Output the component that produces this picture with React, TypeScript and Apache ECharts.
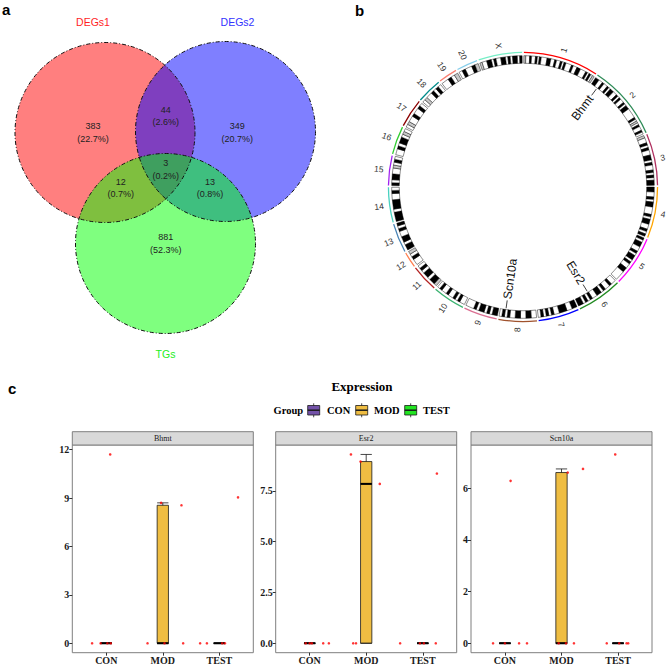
import React, { useEffect, useRef } from "react";
import * as echarts from "echarts";

// ================= DATA =================
// ---- Panel a: Venn diagram ----
const vennSetNames = ["DEGs1", "DEGs2", "TGs"];
const vennSetColors = ["#ff0000", "#0000ff", "#00ff00"];
const vennLabelColors = ["#ff1f1f", "#3333ff", "#22ee22"];
// regions: DEGs1 only, DEGs1&DEGs2, DEGs2 only, DEGs1&TGs, all three, DEGs2&TGs, TGs only
const vennRegionCounts = [383, 44, 349, 12, 3, 13, 881];

// ---- Panel b: circular ideogram ----
const chrNames = ["1", "2", "3", "4", "5", "6", "7", "8", "9", "10", "11", "12", "13", "14", "15", "16", "17", "18", "19", "20", "X"];
const chrLengths = [262, 263, 180, 178, 176, 158, 142, 133, 117, 113, 95, 55, 102, 122, 104, 98, 100, 88, 66, 74, 152];
const chrColors = ["#ff0000", "#2e8b57", "#b03060", "#ffa500", "#ff00ff", "#228b22", "#0000ff", "#a0522d", "#db7093", "#3cb371", "#b22222", "#ff7f50", "#4682b4", "#48d1c0", "#a020f0", "#32cd32", "#8b0000", "#008b8b", "#fa8072", "#87ceeb", "#76eec6"];
// band pattern per chromosome: w = gneg, b = gpos, g = gvar/acen; runs of one letter form one band
const chrBandPatterns = [
  "gwwbwwbwbwwwbbwwbwwbwbwwwbwwbbwwwbwbwg",
  "bbwwbwwbwbbwwbwbwwbwbbwwwwwbwgwbwwbw",
  "gwwbwbwwbbwbwwbwbwbb",
  "bbwwbwbbwwwbwbbwwbwb",
  "bwbbwwbwbbwbwwbbwwww",
  "wwbwwbwbbwwbwbwbb",
  "bbwwbbbwwbwbwbw",
  "wwbbwwbbwwbwbw",
  "bbwbwbbwbwww",
  "wwbwbwwbwwbw",
  "gbbwbbwbw",
  "wwbwg",
  "bbwbbwwbwb",
  "bbbwbbbwwbw",
  "bwbbwwgwbw",
  "wwbwbbwgw",
  "wgwwbwwbw",
  "wgwwbwbw",
  "wwbwg",
  "wbwwbg",
  "gwwbbwbwwbbwbwbbwb",
];
const geneNames = ["Bhmt", "Esr2", "Scn10a"];
const geneChromosomes = ["2", "6", "8"];
const genePositions = [26, 105, 112];

// ---- Panel c: expression box plots ----
const exprGenes = ["Bhmt", "Esr2", "Scn10a"];
const exprGroups = ["CON", "MOD", "TEST"];
const groupColors = ["#7352a8", "#efbd42", "#22e522"];
const bhmtValues = [[0, 0, 0, 0, 11.7], [0, 8.7, 0, 8.55, 0], [0, 0, 0, 0, 9.04]];
const bhmtJitter = [[-0.25, -0.1, 0.02, 0.08, 0.07], [-0.27, -0.03, 0.03, 0.33, 0.36], [-0.34, -0.22, 0.05, 0.1, 0.33]];
const esr2Values = [[0, 0, 0, 0, 0], [9.3, 0, 0, 8.95, 7.85], [0, 0, 0, 0, 8.36]];
const esr2Jitter = [[-0.07, 0.04, 0.0, 0.24, 0.34], [-0.27, -0.23, -0.18, -0.1, 0.24], [-0.4, -0.05, 0.02, 0.23, 0.25]];
const scn10aValues = [[0, 0, 0, 0, 6.28], [0, 6.6, 0, 6.74, 0], [0, 7.3, 0, 0, 0]];
const scn10aJitter = [[-0.21, 0.0, 0.25, 0.39, 0.1], [0.08, 0.11, 0.22, 0.38, -0.05], [-0.2, -0.05, 0.15, 0.18, 0.02]];
const bhmtTicks = [0, 3, 6, 9, 12];
const esr2Ticks = [0, 2.5, 5, 7.5];
const scn10aTicks = [0, 2, 4, 6];

// ================= LAYOUT / STYLE =================
const SANS = '"Liberation Sans", Arial, Helvetica, sans-serif';
const SERIF = '"Liberation Serif", "Times New Roman", serif';
const VENN_CENTERS = [[105, 132.5], [225.5, 131.5], [165.5, 243.5]];
const VENN_R = 90;
const VENN_SET_LABEL_POS = [[93, 22], [237.5, 22], [165.5, 354]];
const VENN_REGION_POS = [[93, 132.2], [165.7, 115.8], [237.3, 132.2], [120.7, 188], [165.7, 169.7], [210, 188], [165.7, 243.7]];

const POLAR_CENTER = [523, 187];
const POLAR_R = 150;
const GAP = 6;
const R_BAND_IN = 123.7, R_BAND_OUT = 131.3;
const R_RING_IN = 133.9, R_RING_OUT = 135.2;
const R_CHR_LABEL = 140.5;
const R_GENE_TEXT = 113, R_CONN_IN = 114.5, R_CONN_OUT = 122.5;
const BAND_CODE: any = { w: 0, b: 1, g: 2 };
const BAND_FILL = ["#ffffff", "#000000", "#c8c8c8"];

const FACET_LEFT = [72.3, 275.7, 471];
const FACET_W = 181, FACET_TOP = 445, FACET_H = 207.7, STRIP_TOP = 431.7;

// ================= HELPERS =================
function rgba(hex: string, a: number) {
  const n = parseInt(hex.slice(1), 16);
  return `rgba(${(n >> 16) & 255},${(n >> 8) & 255},${n & 255},${a})`;
}
function txt(text: string, x: number, y: number, font: string, fill: string, align = "center", vAlign = "middle", rotation = 0): any {
  return {
    type: "text", x, y, rotation, silent: true,
    style: { text, font, fill, textFill: fill, align, verticalAlign: vAlign, textAlign: align, textVerticalAlign: vAlign },
  };
}
function seriesTxt(text: string, x: number, y: number, font: string, fill: string, align: string, rotation: number): any {
  return {
    type: "text", x, y, rotation, silent: true, z2: 10,
    style: { legacy: false, text, font, fill, align, verticalAlign: "middle" },
  };
}
function q7(s: number[], p: number) {
  const h = (s.length - 1) * p;
  const lo = Math.floor(h), hi = Math.ceil(h);
  return s[lo] + (h - lo) * (s[hi] - s[lo]);
}
function boxStats(vals: number[]) {
  const s = [...vals].sort((a, b) => a - b);
  const q1 = q7(s, 0.25), med = q7(s, 0.5), q3 = q7(s, 0.75);
  const iqr = q3 - q1;
  const lo = Math.min(...s.filter((v) => v >= q1 - 1.5 * iqr));
  const hi = Math.max(...s.filter((v) => v <= q3 + 1.5 * iqr));
  return [lo, q1, med, q3, hi];
}
function polarPoint(api: any, params: any, r: number, a: number) {
  const cs = params.coordSys;
  const p = api.coord([r, a]);
  const dx = p[0] - cs.cx, dy = p[1] - cs.cy;
  return { x: p[0], y: p[1], t: Math.atan2(dy, dx), d: Math.sqrt(dx * dx + dy * dy) };
}
function polarSector(api: any, params: any, rIn: number, rOut: number, a0: number, a1: number, style: any) {
  const cs = params.coordSys;
  const s = polarPoint(api, params, rOut, a0);
  const e = polarPoint(api, params, rOut, a1);
  const inner = polarPoint(api, params, rIn, a0);
  let t1 = e.t;
  while (t1 < s.t) t1 += Math.PI * 2;
  return {
    type: "sector",
    shape: { cx: cs.cx, cy: cs.cy, r0: inner.d, r: s.d, startAngle: s.t, endAngle: t1, clockwise: true },
    style,
  };
}
function radialRotation(t: number) {
  const theta = (((t * 180) / Math.PI + 90) % 360 + 360) % 360;
  const deg = theta < 180 ? 90 - theta : 270 - theta;
  return { theta, rot: (deg * Math.PI) / 180 };
}

function buildOption() {
  const graphics: any[] = [];

  // panel letters
  graphics.push(txt("a", 2, 9.5, `bold 15px ${SANS}`, "#000", "left"));
  graphics.push(txt("b", 355, 10, `bold 15px ${SANS}`, "#000", "left"));
  graphics.push(txt("c", 8, 388, `bold 15px ${SANS}`, "#000", "left"));

  // ---- Venn ----
  VENN_CENTERS.forEach((c, i) => {
    graphics.push({ type: "circle", silent: true, shape: { cx: c[0], cy: c[1], r: VENN_R }, style: { fill: rgba(vennSetColors[i], 0.5) } });
  });
  VENN_CENTERS.forEach((c) => {
    graphics.push({ type: "circle", silent: true, shape: { cx: c[0], cy: c[1], r: VENN_R }, style: { fill: "none", stroke: "#111", lineWidth: 1, lineDash: [4, 2, 1, 2] } });
  });
  vennSetNames.forEach((n, i) => {
    graphics.push(txt(n, VENN_SET_LABEL_POS[i][0], VENN_SET_LABEL_POS[i][1], `10.5px ${SANS}`, vennLabelColors[i]));
  });
  const vennTotal = vennRegionCounts.reduce((a, b) => a + b, 0);
  vennRegionCounts.forEach((cnt, i) => {
    const [x, y] = VENN_REGION_POS[i];
    graphics.push(txt(String(cnt), x, y - 6.3, `9px ${SANS}`, "#222"));
    graphics.push(txt(`(${((cnt / vennTotal) * 100).toFixed(1)}%)`, x, y + 6.3, `9px ${SANS}`, "#222"));
  });

  // ---- Panel c decorations ----
  graphics.push(txt("Expression", 362, 386, `bold 13px ${SERIF}`, "#000"));
  const LEGEND_Y = 410;
  graphics.push(txt("Group", 273.6, LEGEND_Y, `bold 10.5px ${SERIF}`, "#000", "left"));
  const keyX = [307.2, 355.2, 404.2];
  const labelX = [327, 374, 423];
  exprGroups.forEach((g, j) => {
    const x0 = keyX[j], w = 13, cx = x0 + w / 2;
    graphics.push({ type: "line", silent: true, shape: { x1: cx, y1: 403.3, x2: cx, y2: 417.3 }, style: { stroke: "#1a1a1a", lineWidth: 0.8 } });
    graphics.push({ type: "rect", silent: true, shape: { x: x0 + 0.5, y: 405.5, width: w - 1, height: 9.5 }, style: { fill: groupColors[j], stroke: "#1a1a1a", lineWidth: 0.8 } });
    graphics.push({ type: "line", silent: true, shape: { x1: x0 + 0.5, y1: 410.2, x2: x0 + w - 0.5, y2: 410.2 }, style: { stroke: "#1a1a1a", lineWidth: 1.5 } });
    graphics.push(txt(g, labelX[j], LEGEND_Y, `bold 10.5px ${SERIF}`, "#000", "left"));
  });
  exprGenes.forEach((gene, gi) => {
    graphics.push({ type: "rect", silent: true, shape: { x: FACET_LEFT[gi], y: STRIP_TOP, width: FACET_W, height: FACET_TOP - STRIP_TOP }, style: { fill: "#d9d9d9", stroke: "#7f7f7f", lineWidth: 1 } });
    graphics.push(txt(gene, FACET_LEFT[gi] + FACET_W / 2, (STRIP_TOP + FACET_TOP) / 2 + 0.5, `8px ${SERIF}`, "#1a1a1a"));
  });

  // ---- Panel b data prep ----
  const chrOffsets: number[] = [];
  let acc = 0;
  chrLengths.forEach((len) => {
    chrOffsets.push(acc + GAP / 2);
    acc += len + GAP;
  });
  const genomeTotal = acc;
  const bandData: number[][] = [];
  chrBandPatterns.forEach((pat, i) => {
    const len = chrLengths[i], n = pat.length, unit = len / n;
    let k = 0;
    while (k < n) {
      let e = k;
      while (e + 1 < n && pat[e + 1] === pat[k]) e++;
      bandData.push([i, chrOffsets[i] + k * unit, chrOffsets[i] + (e + 1) * unit, BAND_CODE[pat[k]]]);
      k = e + 1;
    }
  });
  const ringData = chrNames.map((_, i) => [i, chrOffsets[i], chrOffsets[i] + chrLengths[i]]);
  const chrLabelData = chrNames.map((_, i) => [i, chrOffsets[i] + chrLengths[i] / 2]);
  const geneData = geneNames.map((_, g) => [g, chrOffsets[chrNames.indexOf(geneChromosomes[g])] + genePositions[g]]);

  const series: any[] = [];
  series.push({
    type: "custom", coordinateSystem: "polar", polarIndex: 0, silent: true, data: bandData,
    renderItem: (params: any, api: any) =>
      polarSector(api, params, R_BAND_IN, R_BAND_OUT, api.value(1), api.value(2), { fill: BAND_FILL[api.value(3)], stroke: "#000", lineWidth: 0.45 }),
  });
  series.push({
    type: "custom", coordinateSystem: "polar", polarIndex: 0, silent: true, data: ringData,
    renderItem: (params: any, api: any) =>
      polarSector(api, params, R_RING_IN, R_RING_OUT, api.value(1), api.value(2), { fill: chrColors[api.value(0)] }),
  });
  series.push({
    type: "custom", coordinateSystem: "polar", polarIndex: 0, silent: true, data: chrLabelData,
    itemStyle: { color: "#333" },
    renderItem: (params: any, api: any) => {
      const p = polarPoint(api, params, R_CHR_LABEL, api.value(1));
      const { theta, rot } = radialRotation(p.t);
      return seriesTxt(chrNames[api.value(0)], p.x, p.y, `8.5px ${SANS}`, "#333", theta < 180 ? "left" : "right", rot);
    },
  });
  series.push({
    type: "custom", coordinateSystem: "polar", polarIndex: 0, silent: true, data: geneData,
    itemStyle: { color: "#111" },
    renderItem: (params: any, api: any) => {
      const a = api.value(1);
      const pt = polarPoint(api, params, R_GENE_TEXT, a);
      const c0 = polarPoint(api, params, R_CONN_IN, a);
      const c1 = polarPoint(api, params, R_CONN_OUT, a);
      const { theta, rot } = radialRotation(pt.t);
      return {
        type: "group",
        children: [
          { type: "line", shape: { x1: c0.x, y1: c0.y, x2: c1.x, y2: c1.y }, style: { stroke: "#111", lineWidth: 0.8 } },
          seriesTxt(geneNames[api.value(0)], pt.x, pt.y, `12px ${SANS}`, "#111", theta < 180 ? "right" : "left", rot),
        ],
      };
    },
  });

  // ---- Panel c ----
  const exprValues = [bhmtValues, esr2Values, scn10aValues];
  const exprJitter = [bhmtJitter, esr2Jitter, scn10aJitter];
  const exprTicks = [bhmtTicks, esr2Ticks, scn10aTicks];

  const grids = FACET_LEFT.map((l) => ({
    left: l, top: FACET_TOP, width: FACET_W, height: FACET_H,
    show: true, borderColor: "#7f7f7f", borderWidth: 1, backgroundColor: "transparent",
    containLabel: false, outerBoundsMode: "none",
  }));
  const labelStyle = { fontFamily: SERIF, fontWeight: "bold", fontSize: 10, color: "#1a1a1a" };
  const xAxes = exprGenes.map((_, gi) => ({
    type: "value", gridIndex: gi, min: 0.4, max: 3.6,
    axisLine: { show: false, onZero: false },
    splitLine: { show: false },
    axisTick: { show: true, customValues: [1, 2, 3], length: 3, lineStyle: { color: "#333", width: 1 } },
    axisLabel: { show: true, customValues: [1, 2, 3], margin: 2.5, formatter: (v: number) => exprGroups[Math.round(v) - 1] || "", ...labelStyle },
  }));
  const yAxes = exprGenes.map((_, gi) => {
    const mx = Math.max(...exprValues[gi].flat());
    const ticks = exprTicks[gi];
    const dec = ticks.some((t) => Math.round(t) !== t) ? 1 : 0;
    return {
      type: "value", gridIndex: gi, min: -0.05 * mx, max: 1.05 * mx,
      axisLine: { show: false, onZero: false },
      splitLine: { show: false },
      axisTick: { show: true, customValues: ticks, length: 3, lineStyle: { color: "#333", width: 1 } },
      axisLabel: { show: true, customValues: ticks, margin: 3, formatter: (v: number) => v.toFixed(dec), ...labelStyle },
    };
  });

  exprGenes.forEach((_, gi) => {
    const vals = exprValues[gi], jit = exprJitter[gi];
    series.push({
      type: "boxplot", xAxisIndex: gi, yAxisIndex: gi, silent: true, boxWidth: [11.3, 11.3],
      data: exprGroups.map((g, j) => ({
        value: [j + 1, ...boxStats(vals[j])],
        itemStyle: { color: groupColors[j], borderColor: "#1a1a1a", borderWidth: 0.8 },
      })),
    });
    series.push({
      type: "custom", xAxisIndex: gi, yAxisIndex: gi, silent: true, z: 3,
      data: exprGroups.map((g, j) => [j + 1, boxStats(vals[j])[2]]),
      renderItem: (params: any, api: any) => {
        const x = api.value(0), m = api.value(1);
        const p0 = api.coord([x - 0.1, m]);
        const p1 = api.coord([x + 0.1, m]);
        return { type: "line", shape: { x1: p0[0], y1: p0[1], x2: p1[0], y2: p1[1] }, style: { stroke: "#000", lineWidth: 2 } };
      },
    });
    const pts: number[][] = [];
    vals.forEach((arr, j) => arr.forEach((v, k) => pts.push([j + 1 + jit[j][k], v])));
    series.push({
      type: "scatter", xAxisIndex: gi, yAxisIndex: gi, silent: true, symbolSize: 2.6, z: 4,
      itemStyle: { color: "#ff0000" }, data: pts,
    });
  });

  return {
    animation: false,
    backgroundColor: "#ffffff",
    textStyle: { fontFamily: SANS },
    graphic: { elements: graphics },
    polar: { center: POLAR_CENTER, radius: POLAR_R },
    angleAxis: { type: "value", min: 0, max: genomeTotal, startAngle: 90, clockwise: true, show: false },
    radiusAxis: { type: "value", min: 0, max: POLAR_R, show: false },
    grid: grids,
    xAxis: xAxes,
    yAxis: yAxes,
    series,
  };
}

export default function App() {
  const ref = useRef<HTMLDivElement>(null);
  useEffect(() => {
    if (!ref.current) return;
    const chart = echarts.init(ref.current, null, { renderer: "svg" });
    chart.setOption(buildOption() as any);
    return () => chart.dispose();
  }, []);
  return <div ref={ref} style={{ position: "absolute", left: 0, top: 0, width: 669, height: 666, background: "#fff" }} />;
}
